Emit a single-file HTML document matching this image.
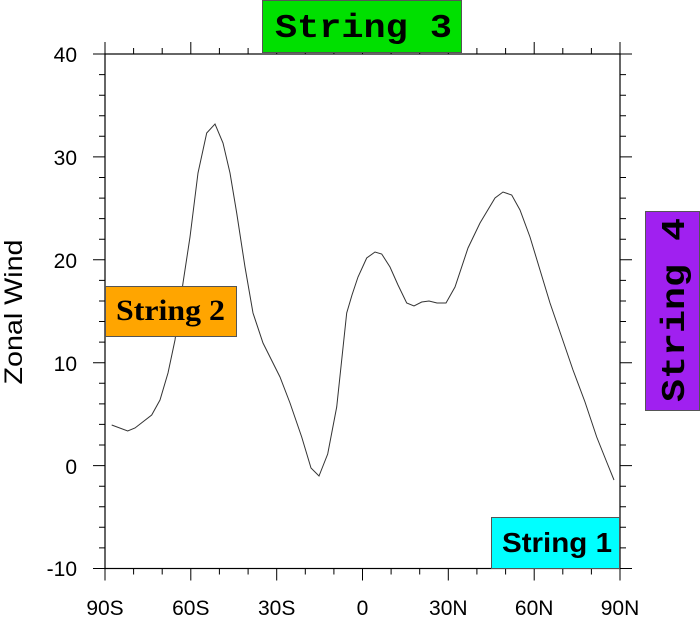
<!DOCTYPE html>
<html><head><style>body{margin:0;background:#fff}svg{display:block}</style></head><body>
<svg width="700" height="618" xmlns="http://www.w3.org/2000/svg">
<g stroke="#000" stroke-width="1.2" fill="none">
<rect x="105" y="54" width="515" height="514.5"/>
</g>
<g stroke="#000" stroke-width="1">
<path d="
M105 54h-12M105 156.9h-12M105 259.8h-12M105 362.7h-12M105 465.6h-12M105 568.5h-12
M620 54h12M620 156.9h12M620 259.8h12M620 362.7h12M620 465.6h12M620 568.5h12
M105 74.6h-6M105 95.2h-6M105 115.7h-6M105 136.3h-6
M105 177.5h-6M105 198.1h-6M105 218.6h-6M105 239.2h-6
M105 280.4h-6M105 301h-6M105 321.5h-6M105 342.1h-6
M105 383.3h-6M105 403.9h-6M105 424.4h-6M105 445h-6
M105 486.2h-6M105 506.8h-6M105 527.3h-6M105 547.9h-6
M620 74.6h6M620 95.2h6M620 115.7h6M620 136.3h6
M620 177.5h6M620 198.1h6M620 218.6h6M620 239.2h6
M620 280.4h6M620 301h6M620 321.5h6M620 342.1h6
M620 383.3h6M620 403.9h6M620 424.4h6M620 445h6
M620 486.2h6M620 506.8h6M620 527.3h6M620 547.9h6
M105 568.5v12M190.8 568.5v12M276.7 568.5v12M362.5 568.5v12M448.3 568.5v12M534.2 568.5v12M620 568.5v12
M105 54v-12M190.8 54v-12M276.7 54v-12M362.5 54v-12M448.3 54v-12M534.2 54v-12M620 54v-12
M133.6 568.5v6M162.2 568.5v6M219.4 568.5v6M248.1 568.5v6M305.3 568.5v6M333.9 568.5v6M391.1 568.5v6M419.7 568.5v6M476.9 568.5v6M505.6 568.5v6M562.8 568.5v6M591.4 568.5v6
M133.6 54v-6M162.2 54v-6M219.4 54v-6M248.1 54v-6M305.3 54v-6M333.9 54v-6M391.1 54v-6M419.7 54v-6M476.9 54v-6M505.6 54v-6M562.8 54v-6M591.4 54v-6"/>
</g>
<g font-family="Liberation Sans, sans-serif" font-size="21" fill="#000">
<g text-anchor="end">
<text x="77" y="62">40</text><text x="77" y="165">30</text><text x="77" y="268">20</text>
<text x="77" y="371">10</text><text x="77" y="474">0</text><text x="77" y="576">-10</text>
</g>
<g text-anchor="middle">
<text x="105" y="615">90S</text><text x="190.8" y="615">60S</text><text x="276.7" y="615">30S</text>
<text x="362.5" y="615">0</text><text x="448.3" y="615">30N</text><text x="534.2" y="615">60N</text><text x="620" y="615">90N</text>
</g>
<text transform="translate(22 312) rotate(-90)" text-anchor="middle" font-size="25" textLength="145" lengthAdjust="spacingAndGlyphs">Zonal Wind</text>
</g>
<polyline fill="none" stroke="#333" stroke-width="1" points="111.7,425 127.7,431 135,428 151.7,415 160,400 168,373 175,340 183,283 190,237 198,173 206.7,133 215,124 223,143 230,173 236.7,213 245,267 253,313 263,343 280,377 290,403 301.7,437 311,468 319,476 327.7,454 336.7,407 346.7,313 352,295 358,277 366.7,258 375,252 381.7,254 390,267 398,285 406.7,303 414,306 421.7,302 429,301 437,303 446,303 455,287 468,248 480,223 495,198 503,192 511.7,195 520,210 530,237 540,270 550,303 561.7,337 573,370 585,402 596.7,437 606.7,462 614,480"/>
<rect x="262.5" y="0.5" width="199" height="52" fill="#00e000" stroke="#555"/>
<text x="275" y="37" font-family="Liberation Mono, monospace" font-weight="bold" font-size="33" textLength="177" lengthAdjust="spacingAndGlyphs">String 3</text>
<rect x="105.5" y="286.5" width="131" height="50" fill="#ffa500" stroke="#555"/>
<text x="116" y="320" font-family="Liberation Serif, serif" font-weight="bold" font-size="30" textLength="109" lengthAdjust="spacingAndGlyphs">String 2</text>
<rect x="491.5" y="517.5" width="128" height="51" fill="#00ffff" stroke="#555"/>
<text x="502" y="552" font-family="Liberation Sans, sans-serif" font-weight="bold" font-size="28" textLength="110" lengthAdjust="spacingAndGlyphs">String 1</text>
<rect x="645.5" y="211.5" width="54" height="199" fill="#a020f0" stroke="#555"/>
<text transform="translate(684 402) rotate(-90)" font-family="Liberation Mono, monospace" font-weight="bold" font-size="33" textLength="184" lengthAdjust="spacingAndGlyphs">String 4</text>
</svg>
</body></html>
